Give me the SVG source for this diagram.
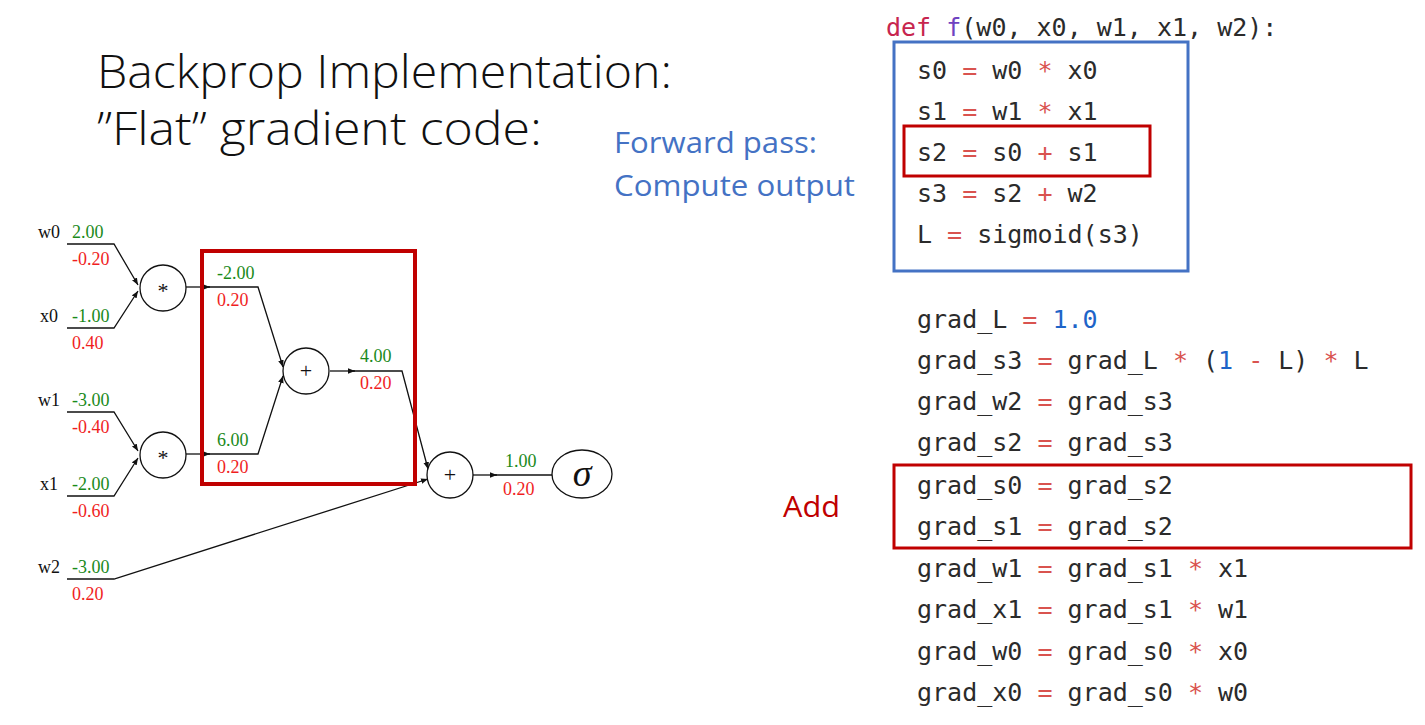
<svg xmlns="http://www.w3.org/2000/svg" width="1425" height="725" viewBox="0 0 1425 725">
<style>
.title{font-family:"Open Sans","Liberation Sans",sans-serif;font-size:46px;font-weight:300;fill:#111;}
.blue{font-family:"Open Sans","Liberation Sans",sans-serif;font-size:29px;fill:#4472C4;}
.add{font-family:"Open Sans","Liberation Sans",sans-serif;font-size:29px;fill:#C00000;}
.code{font-family:"DejaVu Sans Mono","Liberation Mono",monospace;font-size:25px;fill:#2b2b2b;}
.op{fill:#D9534F;}
.kw{fill:#C7254E;}
.fn{fill:#6F42C1;}
.num{fill:#1E64C8;}
.lbl{font-family:"Liberation Serif","Times New Roman",serif;font-size:18px;fill:#111;}
.g{font-family:"Liberation Serif","Times New Roman",serif;font-size:18px;fill:#1A8A1A;}
.r{font-family:"Liberation Serif","Times New Roman",serif;font-size:18px;fill:#F01E1E;}
.edge{fill:none;stroke:#111;stroke-width:1.3;}
.node{fill:#fff;stroke:#111;stroke-width:1.3;}
.sym{font-family:"Liberation Serif","Times New Roman",serif;font-size:22px;fill:#111;text-anchor:middle;}
.hl{fill:none;stroke:#C00000;stroke-width:4;}
.hl2{fill:none;stroke:#C00000;stroke-width:3;}
.bl{fill:none;stroke:#4472C4;stroke-width:3;}
</style>
<defs>
<marker id="ah" viewBox="0 0 10 10" refX="10" refY="5" markerWidth="7" markerHeight="7" markerUnits="userSpaceOnUse" orient="auto">
<path d="M0,1 L10,5 L0,9 z" fill="#111"/>
</marker>
</defs>
<rect width="1425" height="725" fill="#fff"/>

<g id="title">
<text class="title" x="97" y="88" textLength="575" lengthAdjust="spacingAndGlyphs">Backprop Implementation:</text>
<text class="title" x="97" y="145" textLength="445" lengthAdjust="spacingAndGlyphs">”Flat” gradient code:</text>
</g>
<g id="forward-label">
<text class="blue" x="614" y="153" textLength="203" lengthAdjust="spacingAndGlyphs">Forward pass:</text>
<text class="blue" x="614" y="196" textLength="241" lengthAdjust="spacingAndGlyphs">Compute output</text>
</g>
<g id="add-label">
<text class="add" x="783" y="517" textLength="57" lengthAdjust="spacingAndGlyphs">Add</text>
</g>

<g id="connectors">
<polyline class="edge" points="67,244 114,244 138,285" marker-end="url(#ah)"/>
<polyline class="edge" points="67,328 114,328 138,291" marker-end="url(#ah)"/>
<polyline class="edge" points="67,412 114,412 138,451" marker-end="url(#ah)"/>
<polyline class="edge" points="67,496 114,496 138,458" marker-end="url(#ah)"/>
<line class="edge" x1="186" y1="287" x2="210" y2="287" marker-end="url(#ah)"/>
<polyline class="edge" points="208,287 258,287 283,367" marker-end="url(#ah)"/>
<line class="edge" x1="186" y1="454" x2="210" y2="454" marker-end="url(#ah)"/>
<polyline class="edge" points="208,454 258,454 283,376" marker-end="url(#ah)"/>
<line class="edge" x1="330" y1="371" x2="355" y2="371" marker-end="url(#ah)"/>
<polyline class="edge" points="353,371 402,371 428,469" marker-end="url(#ah)"/>
<polyline class="edge" points="67,579 114,579 428,479" marker-end="url(#ah)"/>
<line class="edge" x1="473" y1="475" x2="497" y2="475" marker-end="url(#ah)"/>
<line class="edge" x1="495" y1="475" x2="552" y2="475"/>
</g>

<g id="in-w0"><text class="lbl" x="38" y="238">w0</text><text class="g" x="72" y="238">2.00</text><text class="r" x="72" y="265">-0.20</text></g>
<g id="in-x0"><text class="lbl" x="40" y="322">x0</text><text class="g" x="72" y="322">-1.00</text><text class="r" x="72" y="349">0.40</text></g>
<g id="in-w1"><text class="lbl" x="38" y="406">w1</text><text class="g" x="72" y="406">-3.00</text><text class="r" x="72" y="433">-0.40</text></g>
<g id="in-x1"><text class="lbl" x="40" y="490">x1</text><text class="g" x="72" y="490">-2.00</text><text class="r" x="72" y="517">-0.60</text></g>
<g id="in-w2"><text class="lbl" x="38" y="573">w2</text><text class="g" x="72" y="573">-3.00</text><text class="r" x="72" y="600">0.20</text></g>

<g id="mul0"><circle class="node" cx="163" cy="288" r="23"/><text class="sym" x="163" y="298">*</text></g>
<g id="mul1"><circle class="node" cx="163" cy="455" r="23"/><text class="sym" x="163" y="465">*</text></g>
<g id="add0"><circle class="node" cx="306" cy="371" r="23"/><text class="sym" x="306" y="378">+</text></g>
<g id="add1"><circle class="node" cx="450" cy="475" r="23"/><text class="sym" x="450" y="482">+</text></g>
<g id="sigma"><ellipse class="node" cx="582" cy="474" rx="30" ry="24"/><text x="582" y="486" text-anchor="middle" font-family="Liberation Serif,serif" font-style="italic" font-size="38" fill="#111">σ</text></g>

<g id="val-s0"><text class="g" x="217" y="279">-2.00</text><text class="r" x="217" y="306">0.20</text></g>
<g id="val-s1"><text class="g" x="217" y="446">6.00</text><text class="r" x="217" y="473">0.20</text></g>
<g id="val-s2"><text class="g" x="360" y="362">4.00</text><text class="r" x="360" y="389">0.20</text></g>
<g id="val-s3"><text class="g" x="505" y="467">1.00</text><text class="r" x="503" y="495">0.20</text></g>

<g id="hl-graph"><rect class="hl" x="202" y="251" width="213" height="233"/></g>

<g id="code-forward">
<text class="code" x="886" y="36"><tspan class="kw">def</tspan> <tspan class="fn">f</tspan>(w0, x0, w1, x1, w2):</text>
<text class="code" x="917" y="79">s0 <tspan class="op">=</tspan> w0 <tspan class="op">*</tspan> x0</text>
<text class="code" x="917" y="120">s1 <tspan class="op">=</tspan> w1 <tspan class="op">*</tspan> x1</text>
<text class="code" x="917" y="161">s2 <tspan class="op">=</tspan> s0 <tspan class="op">+</tspan> s1</text>
<text class="code" x="917" y="202">s3 <tspan class="op">=</tspan> s2 <tspan class="op">+</tspan> w2</text>
<text class="code" x="917" y="243">L <tspan class="op">=</tspan> sigmoid(s3)</text>
<rect class="bl" x="894" y="42" width="294" height="229"/>
<rect class="hl2" x="904" y="126" width="246" height="50"/>
</g>

<g id="code-backward">
<text class="code" x="917" y="328">grad_L <tspan class="op">=</tspan> <tspan class="num">1.0</tspan></text>
<text class="code" x="917" y="369">grad_s3 <tspan class="op">=</tspan> grad_L <tspan class="op">*</tspan> (<tspan class="num">1</tspan> <tspan class="op">-</tspan> L) <tspan class="op">*</tspan> L</text>
<text class="code" x="917" y="410">grad_w2 <tspan class="op">=</tspan> grad_s3</text>
<text class="code" x="917" y="451">grad_s2 <tspan class="op">=</tspan> grad_s3</text>
<text class="code" x="917" y="494">grad_s0 <tspan class="op">=</tspan> grad_s2</text>
<text class="code" x="917" y="535">grad_s1 <tspan class="op">=</tspan> grad_s2</text>
<text class="code" x="917" y="577">grad_w1 <tspan class="op">=</tspan> grad_s1 <tspan class="op">*</tspan> x1</text>
<text class="code" x="917" y="618">grad_x1 <tspan class="op">=</tspan> grad_s1 <tspan class="op">*</tspan> w1</text>
<text class="code" x="917" y="660">grad_w0 <tspan class="op">=</tspan> grad_s0 <tspan class="op">*</tspan> x0</text>
<text class="code" x="917" y="701">grad_x0 <tspan class="op">=</tspan> grad_s0 <tspan class="op">*</tspan> w0</text>
<rect class="hl2" x="894" y="465" width="517" height="83"/>
</g>
</svg>
